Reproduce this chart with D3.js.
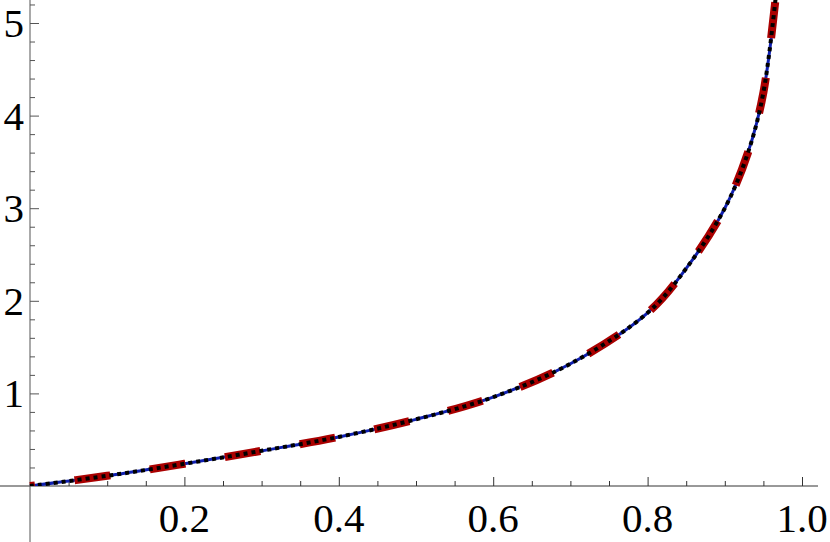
<!DOCTYPE html>
<html><head><meta charset="utf-8">
<script src="https://cdn.jsdelivr.net/npm/d3@7"></script>
<style>body{margin:0;background:#fff}text{font-family:"Liberation Serif",serif}</style>
</head><body><div id="chart"></div>
<script>
const xs = [0, 0.1, 0.2, 0.3, 0.4, 0.5, 0.6, 0.7, 0.8, 0.85, 0.9, 0.93, 0.95, 0.97];
const ys = [0, 0.11, 0.24, 0.38, 0.53, 0.72, 0.96, 1.32, 1.87, 2.35, 3.0, 3.6, 4.25, 5.6];
const xTicks = [0.2, 0.4, 0.6, 0.8, 1.0];
const yTicks = [1, 2, 3, 4, 5];

const width = 830, height = 542;
const data = xs.map((x, i) => ({x: x, y: ys[i]}));

const svg = d3.select('#chart').append('svg')
    .attr('width', width).attr('height', height);

const xScale = d3.scaleLinear().domain([0, 1]).range([30, 802]);
const yScale = d3.scaleLinear().domain([0, 5]).range([486, 23]);

svg.append('defs').append('clipPath').attr('id', 'clip')
    .append('rect').attr('x', 0).attr('y', 0).attr('width', 818).attr('height', 486);

// x axis, ticks point up into the plot
const xAxisG = svg.append('g').attr('transform', 'translate(0,486)')
    .call(d3.axisBottom(xScale).tickValues(d3.range(0.05, 1.001, 0.05)).tickSize(-5).tickFormat(''));
xAxisG.select('.domain').attr('d', 'M0,0H818');
xAxisG.selectAll('.tick line').filter(d => xTicks.some(t => Math.abs(t - d) < 1e-6)).attr('y2', -9);
xAxisG.selectAll('line,path').attr('stroke', '#333');
xTicks.forEach(t => {
    svg.append('text').attr('x', xScale(t)).attr('y', 532)
        .attr('text-anchor', 'middle').attr('font-size', 41).text(t.toFixed(1));
});

// y axis
const yAxisG = svg.append('g').attr('transform', 'translate(30,0)')
    .call(d3.axisLeft(yScale).tickValues(d3.range(0.2, 5.21, 0.2)).tickSize(-5).tickFormat(''));
yAxisG.select('.domain').attr('d', 'M0,0V542');
yAxisG.selectAll('.tick line').filter(d => yTicks.some(t => Math.abs(t - d) < 1e-6)).attr('x2', 9);
yAxisG.selectAll('line,path').attr('stroke', '#555');
yTicks.forEach(t => {
    svg.append('text').attr('x', 24).attr('y', yScale(t) + 14)
        .attr('text-anchor', 'end').attr('font-size', 41).text(t);
});

const line = d3.line().x(d => xScale(d.x)).y(d => yScale(d.y)).curve(d3.curveCatmullRom);
const g = svg.append('g').attr('clip-path', 'url(#clip)');
g.append('path').attr('d', line(data)).attr('fill', 'none')
    .attr('stroke', '#1020b0').attr('stroke-width', 3);
g.append('path').attr('d', line(data)).attr('fill', 'none')
    .attr('stroke', '#aa0000').attr('stroke-width', 8).attr('stroke-dasharray', '36,40')
    .attr('stroke-dashoffset', -45);
g.append('path').attr('d', line(data)).attr('fill', 'none')
    .attr('stroke', '#000').attr('stroke-width', 4).attr('stroke-dasharray', '4,4');
</script></body></html>
